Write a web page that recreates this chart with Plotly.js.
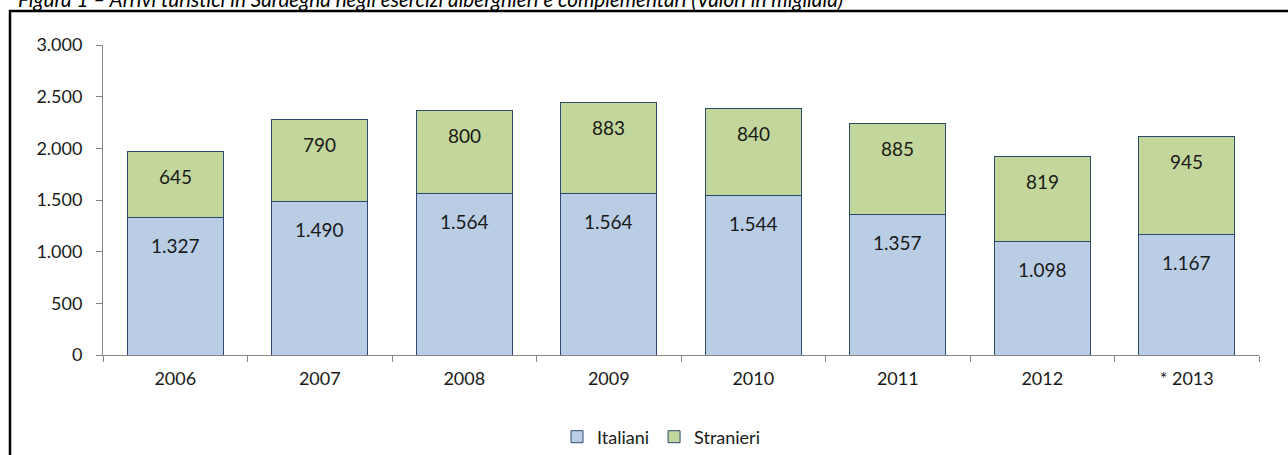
<!DOCTYPE html>
<html>
<head>
<meta charset="utf-8">
<script src="https://cdn.plot.ly/plotly-3.0.1.min.js"></script>
<style>
  html, body { margin: 0; padding: 0; background: #fff; }
  #chart { width: 1288px; height: 455px; }
</style>
</head>
<body>
<div id="chart"></div>
<script>
const categories = ["2006", "2007", "2008", "2009", "2010", "2011", "2012", "* 2013"];
const italiani = [1327, 1490, 1564, 1564, 1544, 1357, 1098, 1167];
const stranieri = [645, 790, 800, 883, 840, 885, 819, 945];
const seriesNames = ["Italiani", "Stranieri"];
const titleText = "Figura 1 – Arrivi turistici in Sardegna negli esercizi alberghieri e complementari (Valori in migliaia)";

const fmtIt = v => {
  const s = String(v);
  return s.length > 3 ? s.slice(0, s.length - 3) + "." + s.slice(-3) : s;
};

const font = "Lato, 'Open Sans', sans-serif";
const outline = "#2c4a6e";
const textColor = "#1a1a1a";

const traces = [
  {
    type: "bar", name: seriesNames[0], x: categories, y: italiani,
    marker: { color: "#b9cde5", line: { color: outline, width: 1 } },
    hoverinfo: "x+y"
  },
  {
    type: "bar", name: seriesNames[1], x: categories, y: stranieri,
    marker: { color: "#c3d69b", line: { color: outline, width: 1 } },
    hoverinfo: "x+y"
  }
];

const annotations = [];
categories.forEach((c, i) => {
  annotations.push({
    x: i, y: italiani[i], xref: "x", yref: "y",
    text: fmtIt(italiani[i]), showarrow: false, yanchor: "middle", yshift: -28,
    font: { family: font, size: 19, color: textColor }
  });
  annotations.push({
    x: i, y: italiani[i] + stranieri[i], xref: "x", yref: "y",
    text: fmtIt(stranieri[i]), showarrow: false, yanchor: "middle", yshift: -25,
    font: { family: font, size: 19, color: textColor }
  });
});

const layout = {
  width: 1288, height: 455,
  margin: { l: 103, r: 29, t: 45, b: 100 },
  paper_bgcolor: "#fff", plot_bgcolor: "#fff",
  barmode: "stack", bargap: 0.335,
  showlegend: true,
  title: {
    text: titleText, x: 18 / 1288, xanchor: "left", xref: "container",
    y: 1.0, yref: "container", yanchor: "middle",
    font: { family: font, size: 20.7, style: "italic", color: "#000" },
    pad: { t: 0, l: 0 }
  },
  font: { family: font, size: 18, color: textColor },
  xaxis: {
    type: "category", range: [-0.5, categories.length - 0.5], fixedrange: true,
    showline: true, linecolor: "#868686", linewidth: 1,
    ticks: "outside", tickson: "boundaries", ticklen: 6, tickcolor: "#868686",
    showgrid: false, zeroline: false, tickangle: 0, ticklabelstandoff: 7,
    tickfont: { family: font, size: 18, color: textColor }
  },
  yaxis: {
    range: [0, 3000], dtick: 500, tickformat: ",d",
    showline: true, linecolor: "#868686", linewidth: 1,
    ticks: "outside", ticklen: 6, tickcolor: "#868686", ticklabelstandoff: 10,
    showgrid: false, zeroline: false,
    tickfont: { family: font, size: 18, color: textColor }
  },
  separators: ",.",
  legend: {
    orientation: "h", xref: "container", yref: "container",
    x: 0.5 + 17 / 1288, xanchor: "center", y: (455 - 437) / 455, yanchor: "middle",
    font: { family: font, size: 18, color: textColor },
    itemwidth: 30, traceorder: "normal"
  },
  shapes: [{
    type: "rect", xref: "paper", yref: "paper",
    x0: (10 - 103) / 1156, x1: 1.2, y0: -0.6, y1: (355 - 11) / 310,
    line: { color: "#000", width: 2.5 }, fillcolor: "rgba(0,0,0,0)", layer: "above"
  }],
  annotations: annotations
};

Plotly.newPlot("chart", traces, layout, { displayModeBar: false, staticPlot: true });
</script>
</body>
</html>
